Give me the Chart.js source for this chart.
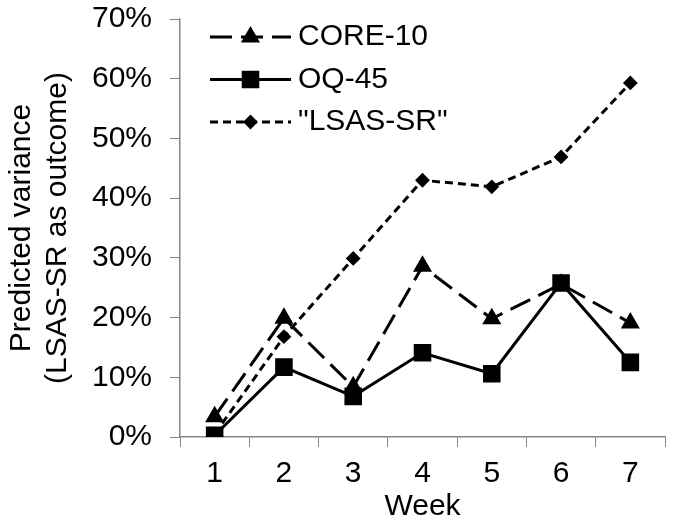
<!DOCTYPE html>
<html>
<head>
<meta charset="utf-8">
<script src="https://cdn.jsdelivr.net/npm/chart.js@4.4.1/dist/chart.umd.min.js"></script>
<style>
  body { margin: 0; background: #fff; }
  #wrap { width: 691px; height: 525px; }
</style>
</head>
<body>
<div id="wrap"><canvas id="varianceChart"></canvas></div>
<script>
// Data (percent of predicted variance)
const weeks = ["1", "2", "3", "4", "5", "6", "7"];
const core10 = [3.4, 19.9, 8.4, 28.6, 19.8, 25.6, 19.1];
const oq45 = [0.3, 11.7, 6.8, 14.1, 10.6, 25.8, 12.5];
const lsasSr = [0.5, 16.8, 29.9, 43.0, 41.9, 46.9, 59.3];
const yTicks = [0, 10, 20, 30, 40, 50, 60, 70];

const axisGray = "#868686";
const font = { family: "'Liberation Sans', Arial, sans-serif", size: 30 };

// Legend drawn inside the plot area, line sample with marker in the middle
const insideLegend = {
  id: "insideLegend",
  afterDraw(chart) {
    const ctx = chart.ctx;
    const area = chart.chartArea;
    const x0 = area.left + 30;
    const x1 = area.left + 111;
    const textX = area.left + 118;
    ctx.save();
    chart.data.datasets.forEach((ds, i) => {
      const y = area.top + 18 + i * 42.5;
      ctx.strokeStyle = "#000";
      ctx.fillStyle = "#000";
      ctx.lineWidth = ds.borderWidth;
      ctx.setLineDash(ds.borderDash || []);
      ctx.beginPath();
      ctx.moveTo(x0, y);
      ctx.lineTo(x1, y);
      ctx.stroke();
      ctx.setLineDash([]);
      ctx.lineWidth = ds.pointBorderWidth;
      Chart.helpers.drawPoint(ctx, {
        pointStyle: ds.pointStyle,
        radius: ds.pointRadius,
        borderWidth: ds.pointBorderWidth,
        rotation: 0
      }, (x0 + x1) / 2, y);
      ctx.font = font.size + "px " + font.family;
      ctx.textBaseline = "middle";
      ctx.textAlign = "left";
      ctx.fillText(ds.label, textX, y);
    });
    ctx.restore();
  }
};

document.addEventListener("DOMContentLoaded", function () {
  const ctx = document.getElementById("varianceChart").getContext("2d");

  new Chart(ctx, {
    type: "line",
    data: {
      labels: weeks,
      datasets: [
        {
          label: "CORE-10",
          data: core10,
          borderColor: "#000",
          backgroundColor: "#000",
          borderWidth: 3,
          borderDash: [22, 9],
          pointStyle: "triangle",
          pointRadius: 9,
          pointBorderWidth: 2
        },
        {
          label: "OQ-45",
          data: oq45,
          borderColor: "#000",
          backgroundColor: "#000",
          borderWidth: 3,
          pointStyle: "rect",
          pointRadius: 11,
          pointBorderWidth: 2
        },
        {
          label: "\"LSAS-SR\"",
          data: lsasSr,
          borderColor: "#000",
          backgroundColor: "#000",
          borderWidth: 3,
          borderDash: [8, 5],
          pointStyle: "rectRot",
          pointRadius: 6,
          pointBorderWidth: 2
        }
      ]
    },
    options: {
      responsive: true,
      maintainAspectRatio: false,
      animation: false,
      layout: { padding: { top: 19, right: 26, left: 4, bottom: 0 } },
      plugins: {
        legend: { display: false },
        tooltip: { enabled: false }
      },
      scales: {
        x: {
          offset: true,
          grid: {
            offset: true,
            drawOnChartArea: false,
            color: axisGray,
            tickLength: 10
          },
          border: { color: axisGray, width: 1.5 },
          ticks: { color: "#000", font: font, padding: 9 },
          title: {
            display: true,
            text: "Week",
            color: "#000",
            font: font,
            padding: { top: 0, bottom: 0 }
          },
          afterFit: (scale) => {
            scale.height = 88;
            scale.paddingLeft = 0;
            scale.paddingRight = 0;
          }
        },
        y: {
          min: 0,
          max: 70,
          afterBuildTicks: (scale) => {
            scale.ticks = yTicks.map((v) => ({ value: v }));
          },
          grid: {
            drawOnChartArea: false,
            color: axisGray,
            tickLength: 10
          },
          border: { color: axisGray, width: 1.5 },
          ticks: {
            color: "#000",
            font: font,
            padding: 18,
            callback: (v) => v + "%"
          },
          title: {
            display: true,
            text: ["Predicted variance", "(LSAS-SR as outcome)"],
            color: "#000",
            font: font,
            padding: { top: 0, bottom: 0 }
          },
          afterFit: (scale) => {
            scale.width = 176;
            scale.paddingTop = 0;
            scale.paddingBottom = 0;
          }
        }
      }
    },
    plugins: [insideLegend]
  });
});
</script>
</body>
</html>
